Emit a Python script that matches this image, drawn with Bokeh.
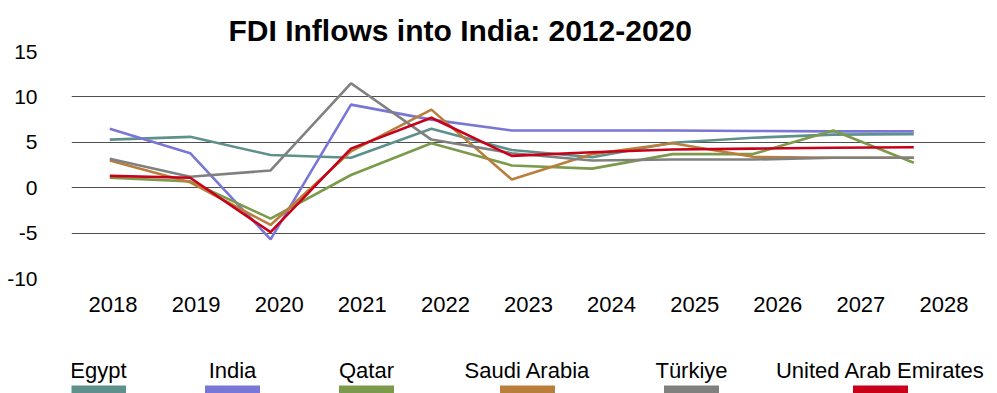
from bokeh.plotting import figure
from bokeh.models import Range1d, LinearAxis, FixedTicker
from bokeh.layouts import column
from bokeh.core.properties import value
from bokeh.embed import file_html
from bokeh.resources import INLINE

# ---------------- data ----------------
years = [2018, 2019, 2020, 2021, 2022, 2023, 2024, 2025, 2026, 2027, 2028]
year_labels = [str(y) for y in years]
y_ticks = [-10, -5, 0, 5, 10, 15]
y_tick_labels = ["-10", "-5", "0", "5", "10", "15"]

series_names = ["Egypt", "India", "Qatar", "Saudi Arabia", "Türkiye", "United Arab Emirates"]
egypt = [5.3, 5.6, 3.6, 3.3, 6.5, 4.15, 3.35, 4.95, 5.5, 5.85, 5.9]
india = [6.5, 3.8, -5.7, 9.15, 7.5, 6.3, 6.3, 6.3, 6.25, 6.2, 6.2]
qatar = [1.1, 0.7, -3.4, 1.4, 4.9, 2.45, 2.1, 3.7, 3.7, 6.3, 2.75]
saudi = [3.0, 0.6, -4.1, 4.0, 8.6, 0.9, 3.7, 4.9, 3.4, 3.3, 3.3]
turkiye = [3.2, 1.2, 1.9, 11.5, 5.3, 3.8, 3.0, 3.1, 3.1, 3.3, 3.3]
uae = [1.3, 1.1, -4.9, 4.3, 7.7, 3.5, 3.9, 4.2, 4.3, 4.4, 4.45]
series_values = [egypt, india, qatar, saudi, turkiye, uae]

# ---------------- style ----------------
colors = ["#5F918C", "#7A76D5", "#7C9A4C", "#B97E3C", "#80807E", "#C9001A"]
FONT = "Liberation Sans"
W = 997
MAIN_H = 338
LEG_H = 55
FRAME_L, FRAME_R = 71, 985
legend_centers = [98, 232, 366, 527, 691, 880]

p = figure(width=W, height=MAIN_H, x_axis_type=None,
           x_range=Range1d(2017.524, 2028.892), y_range=Range1d(-10, 15),
           output_backend="svg", toolbar_location=None,
           min_border_left=FRAME_L, min_border_right=W - FRAME_R,
           min_border_top=51, min_border_bottom=60,
           title="FDI Inflows into India: 2012-2020")
p.outline_line_color = None
p.background_fill_color = "white"
p.border_fill_color = "white"

p.title.text_font = FONT
p.title.text_font_size = "30px"
p.title.text_font_style = "bold"
p.title.text_color = "black"
p.title.align = "left"
p.title.offset = 157
p.title.standoff = 10

for name, vals, c in zip(series_names, series_values, colors):
    p.line(years, vals, line_color=c, line_width=2.6)

p.yaxis.ticker = FixedTicker(ticks=y_ticks)
p.yaxis.major_label_overrides = {t: s for t, s in zip(y_ticks, y_tick_labels)}
p.yaxis.axis_line_color = None
p.yaxis.major_tick_line_color = None
p.yaxis.minor_tick_line_color = None
p.yaxis.major_label_text_font = FONT
p.yaxis.major_label_text_font_size = "21px"
p.yaxis.major_label_text_color = "black"
p.yaxis.major_label_standoff = 28

p.ygrid.ticker = FixedTicker(ticks=y_ticks)
p.ygrid.grid_line_color = "#4f4f4f"
p.ygrid.grid_line_width = 1.2

# category-style label axis: each year label centred in an equal slot of the frame
p.extra_x_ranges = {"labels": Range1d(years[0] - 0.5, years[-1] + 0.5)}
xax = LinearAxis(x_range_name="labels", ticker=FixedTicker(ticks=years),
                 major_label_overrides={y: s for y, s in zip(years, year_labels)})
xax.axis_line_color = None
xax.major_tick_line_color = None
xax.minor_tick_line_color = None
xax.major_label_text_font = FONT
xax.major_label_text_font_size = "22px"
xax.major_label_text_color = "black"
xax.major_label_standoff = 12
p.add_layout(xax, "below")

# ---------------- legend (its frame is aligned with the chart frame) ----------------
lf = figure(width=W, height=LEG_H, x_axis_type=None, y_axis_type=None,
            x_range=Range1d(FRAME_L, FRAME_R), y_range=Range1d(LEG_H, 0),
            output_backend="svg", toolbar_location=None,
            min_border_left=FRAME_L, min_border_right=W - FRAME_R,
            min_border_top=0, min_border_bottom=0)
lf.outline_line_color = None
lf.text(x=legend_centers, y=[32] * len(series_names), text=series_names,
        text_align="center", text_baseline="alphabetic",
        text_font=value(FONT), text_font_size="22px", text_color="black")
lf.rect(x=legend_centers, y=[51] * len(series_names), width=55, height=8,
        fill_color=colors, line_color=None)

layout = column(p, lf)
open("out.html", "w").write(file_html(layout, INLINE))
